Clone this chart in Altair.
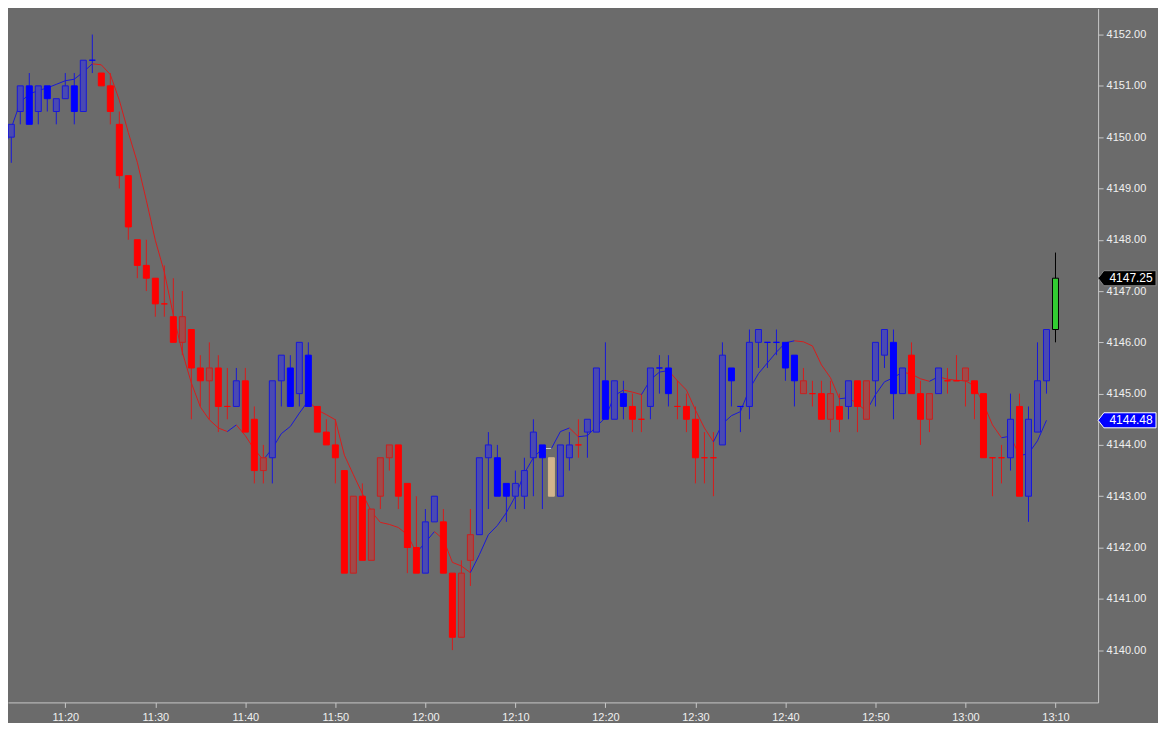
import altair as alt
import pandas as pd

# 1-minute bars from 11:13 to 13:10 (last bar is the live one)
OPENS = [
    4150.5, 4150.0, 4150.5, 4151.0, 4150.5, 4151.0, 4150.5, 4150.75, 4151.0, 4150.5,
    4151.5, 4151.25, 4151.0, 4150.25, 4149.25, 4148.0, 4147.5, 4147.25, 4146.75, 4146.5,
    4146.0, 4146.25, 4145.5, 4145.25, 4145.5, 4144.75, 4144.75, 4145.25, 4144.5, 4143.5,
    4143.75, 4145.25, 4145.5, 4145.0, 4145.75, 4144.75, 4144.25, 4144.0, 4143.5, 4141.5,
    4143.0, 4141.75, 4143.0, 4143.75, 4144.0, 4143.25, 4142.0, 4141.5, 4142.5, 4142.5,
    4141.5, 4140.25, 4141.75, 4142.25, 4143.75, 4143.75, 4143.25, 4143.0, 4143.0, 4143.75,
    4144.0, 4143.75, 4143.0, 4143.75, 4144.0, 4144.25, 4144.25, 4145.25, 4144.5, 4145.0,
    4144.75, 4144.5, 4144.75, 4145.5, 4145.5, 4144.75, 4144.75, 4144.5, 4143.75, 4143.75,
    4144.0, 4145.5, 4144.75, 4144.75, 4146.0, 4146.0, 4146.0, 4146.0, 4145.75, 4145.0,
    4145.0, 4145.0, 4144.5, 4144.75, 4144.75, 4145.25, 4144.5, 4145.25, 4145.75, 4146.0,
    4145.0, 4145.75, 4145.0, 4144.5, 4145.0, 4145.25, 4145.25, 4145.25, 4145.25, 4145.0,
    4143.75, 4143.75, 4143.75, 4144.75, 4143.0, 4144.25, 4145.25, 4146.25,
]
HIGHS = [
    4151.0, 4150.25, 4151.0, 4151.25, 4151.0, 4151.0, 4150.75, 4151.25, 4151.25, 4151.5,
    4152.0, 4151.25, 4151.25, 4150.5, 4149.25, 4148.0, 4148.0, 4147.25, 4147.5, 4147.25,
    4147.0, 4146.25, 4145.75, 4146.0, 4145.75, 4145.5, 4145.5, 4145.5, 4144.75, 4144.0,
    4145.25, 4145.75, 4145.75, 4146.0, 4146.0, 4144.75, 4144.5, 4144.5, 4143.5, 4143.0,
    4143.25, 4142.75, 4143.75, 4144.0, 4144.0, 4143.25, 4143.0, 4142.75, 4143.0, 4142.75,
    4141.5, 4141.75, 4142.75, 4143.75, 4144.25, 4144.0, 4143.25, 4143.5, 4143.75, 4144.5,
    4144.0, 4143.75, 4144.0, 4144.25, 4144.5, 4144.5, 4145.5, 4146.0, 4145.25, 4145.25,
    4145.0, 4145.0, 4145.5, 4145.75, 4145.75, 4145.25, 4145.0, 4144.75, 4144.25, 4144.25,
    4146.0, 4145.5, 4144.75, 4146.25, 4146.25, 4146.0, 4146.25, 4146.0, 4145.75, 4145.5,
    4145.25, 4145.25, 4145.25, 4145.0, 4145.25, 4145.25, 4145.25, 4146.0, 4146.25, 4146.25,
    4145.5, 4146.0, 4145.25, 4145.0, 4145.5, 4145.5, 4145.75, 4145.5, 4145.25, 4145.0,
    4143.75, 4144.0, 4145.0, 4145.0, 4144.75, 4146.0, 4146.25, 4147.75,
]
LOWS = [
    4150.0, 4149.5, 4150.25, 4150.25, 4150.25, 4150.5, 4150.25, 4150.75, 4150.25, 4150.5,
    4151.25, 4151.0, 4150.25, 4149.0, 4148.0, 4147.25, 4147.0, 4146.5, 4146.5, 4146.0,
    4145.75, 4144.5, 4144.75, 4144.5, 4144.25, 4144.5, 4144.75, 4144.25, 4143.25, 4143.25,
    4143.25, 4144.75, 4144.75, 4144.75, 4144.75, 4144.25, 4144.0, 4143.25, 4141.5, 4141.5,
    4141.75, 4141.75, 4142.75, 4143.5, 4142.75, 4141.5, 4141.5, 4141.5, 4142.5, 4141.5,
    4140.0, 4140.25, 4141.25, 4142.25, 4142.75, 4143.0, 4142.5, 4142.75, 4142.75, 4143.0,
    4142.75, 4143.0, 4143.0, 4143.5, 4143.75, 4143.75, 4144.25, 4144.5, 4144.5, 4144.5,
    4144.25, 4144.25, 4144.5, 4145.0, 4144.75, 4144.5, 4144.25, 4143.25, 4143.25, 4143.0,
    4144.0, 4144.75, 4144.25, 4144.5, 4145.5, 4145.5, 4145.75, 4145.25, 4144.75, 4145.0,
    4144.75, 4144.5, 4144.25, 4144.25, 4144.5, 4144.25, 4144.5, 4144.75, 4145.5, 4144.5,
    4145.0, 4145.0, 4144.0, 4144.25, 4145.0, 4145.0, 4145.25, 4144.75, 4144.5, 4143.75,
    4143.0, 4143.25, 4143.5, 4143.0, 4142.5, 4144.25, 4145.0, 4146.0,
]
CLOSES = [
    4150.0, 4150.25, 4151.0, 4150.25, 4151.0, 4150.75, 4150.75, 4151.0, 4150.5, 4151.5,
    4151.5, 4151.0, 4150.5, 4149.25, 4148.25, 4147.5, 4147.25, 4146.75, 4146.75, 4146.0,
    4146.5, 4145.5, 4145.25, 4145.5, 4144.75, 4144.75, 4145.25, 4144.25, 4143.5, 4143.75,
    4145.25, 4145.75, 4144.75, 4146.0, 4144.75, 4144.25, 4144.0, 4143.75, 4141.5, 4143.0,
    4141.75, 4142.75, 4143.75, 4144.0, 4143.0, 4142.0, 4141.5, 4142.5, 4143.0, 4141.5,
    4140.25, 4141.5, 4142.25, 4143.75, 4144.0, 4143.0, 4143.0, 4143.25, 4143.5, 4144.25,
    4143.75, 4143.0, 4144.0, 4144.0, 4144.0, 4144.5, 4145.5, 4144.5, 4145.25, 4144.75,
    4144.5, 4144.5, 4145.5, 4145.5, 4145.0, 4144.75, 4144.5, 4143.75, 4143.75, 4143.75,
    4145.75, 4145.25, 4144.75, 4146.0, 4146.25, 4146.0, 4146.0, 4145.5, 4145.25, 4145.25,
    4145.0, 4144.5, 4145.0, 4144.5, 4145.25, 4144.75, 4145.25, 4146.0, 4146.25, 4145.0,
    4145.5, 4145.0, 4144.5, 4145.0, 4145.5, 4145.25, 4145.25, 4145.5, 4145.0, 4143.75,
    4143.75, 4143.75, 4144.5, 4143.0, 4144.5, 4145.25, 4146.25, 4147.25,
]
# bar colouring: u = blue (average rising), d = red (falling), f = flat, L = live bar
TREND = list(
    "uuuuuuuuuuu" "ddddddddddddddd" "u" "ddd" "uuuuu" "dddddddddddd" "uu" "dddd"
    "uuuuuuuu" "f" "uu" "d" "uuuuu" "dd" "uuu" "ddddd" "uuuuuuuuu" "ddddd" "u" "dd"
    "uuuu" "ddd" "u" "ddddddd" "u" "d" "uuu" "L"
)
# moving average (last value shown on the axis as 4144.48)
MA = [
    4149.62, 4150.18, 4150.68, 4150.84, 4150.91, 4150.96, 4151.03, 4151.10, 4151.13, 4151.27,
    4151.43, 4151.41, 4151.22, 4150.72, 4150.09, 4149.51, 4148.77, 4147.99, 4147.37, 4146.53,
    4145.81, 4145.21, 4144.74, 4144.49, 4144.33, 4144.26, 4144.39, 4144.18, 4143.91, 4143.71,
    4143.93, 4144.22, 4144.36, 4144.62, 4144.86, 4144.68, 4144.59, 4144.49, 4143.80, 4143.42,
    4143.05, 4142.70, 4142.49, 4142.45, 4142.39, 4142.25, 4141.90, 4142.10, 4142.31, 4142.16,
    4141.71, 4141.64, 4141.51, 4141.86, 4142.25, 4142.43, 4142.68, 4143.00, 4143.45, 4143.75,
    4143.93, 4143.93, 4144.26, 4144.33, 4144.16, 4144.18, 4144.36, 4144.53, 4144.96, 4145.07,
    4145.03, 4144.98, 4145.27, 4145.42, 4145.45, 4145.25, 4145.07, 4144.68, 4144.33, 4144.06,
    4144.41, 4144.57, 4144.65, 4145.09, 4145.39, 4145.60, 4145.81, 4145.99, 4146.03, 4146.01,
    4145.93, 4145.56, 4145.31, 4144.90, 4144.92, 4144.80, 4144.66, 4144.98, 4145.23, 4145.31,
    4145.42, 4145.38, 4145.29, 4145.24, 4145.33, 4145.28, 4145.26, 4145.25, 4145.15, 4144.80,
    4144.39, 4144.14, 4144.17, 4143.79, 4143.83, 4144.08, 4144.48,
]
PRICE_TICKS = [4140, 4141, 4142, 4143, 4144, 4145, 4146, 4147, 4148, 4149, 4150, 4151, 4152]
TIME_TICKS = ["11:20", "11:30", "11:40", "11:50", "12:00", "12:10", "12:20",
              "12:30", "12:40", "12:50", "13:00", "13:10"]

DAY = "2023-04-20"
BG = "#6b6b6b"
AXIS_COL = "#c8c8c8"
FONT = "Liberation Sans"

BODY_FILL = {
    "u_f": "#0000ff", "u_h": "#4a4ab2", "d_f": "#ff0000", "d_h": "#a04a4a",
    "f_f": "#d2b48c", "f_h": "#d2b48c", "L_f": "#32cd32", "L_h": "#32cd32",
}
BODY_STROKE = {
    "u_f": "#0000ff", "u_h": "#1818d8", "d_f": "#ff0000", "d_h": "#c82020",
    "f_f": "#d2b48c", "f_h": "#d2b48c", "L_f": "#000000", "L_h": "#000000",
}
LINE_COL = {"u": "#1818d8", "d": "#d81c1c", "f": "#c8c8c8", "L": "#000000"}


def dt(hh, mm, ss=0):
    return alt.DateTime(year=2023, month=4, date=20, hours=hh, minutes=mm, seconds=ss)


def build_frames():
    times = pd.date_range(f"{DAY} 11:13", periods=len(OPENS), freq="1min")
    bars = pd.DataFrame(
        {"t": times, "o": OPENS, "h": HIGHS, "l": LOWS, "c": CLOSES, "trend": TREND}
    )
    bars["lo"] = bars[["o", "c"]].min(axis=1)
    bars["hi"] = bars[["o", "c"]].max(axis=1)
    bars["style"] = bars["trend"] + "_" + (bars["c"] > bars["o"]).map({True: "h", False: "f"})

    segs = pd.DataFrame(
        {
            "t0": times[: len(MA) - 1],
            "t1": times[1 : len(MA)],
            "m0": MA[:-1],
            "m1": MA[1:],
            "trend": TREND[1 : len(MA)],
        }
    )
    return bars, segs


def price_flag(price, fill, stroke):
    # little arrow-shaped box on the price axis
    flag_shape = "M -1 0 L -0.8 -0.26 L 1 -0.26 L 1 0.26 L -0.8 0.26 Z"
    df = pd.DataFrame({"p": [price]})
    box = alt.Chart(df).mark_point(
        shape=flag_shape, size=3364, filled=True, opacity=1,
        fill=fill, stroke=stroke, strokeWidth=1,
    ).encode(x=alt.value(1121), y="p:Q")
    label = alt.Chart(df).mark_text(
        font=FONT, fontSize=12, color="#ffffff", align="center", baseline="middle"
    ).encode(x=alt.value(1125), y="p:Q", text=alt.Text("p:Q", format=".2f"))
    return box + label


def plot_candles(bars, segs):
    x_scale = alt.Scale(domain=[dt(11, 13, 38), dt(13, 14, 44)], nice=False, padding=0)
    y_scale = alt.Scale(domain=[4138.98, 4152.506], nice=False, zero=False, padding=0)
    tick_vals = [dt(int(s[:2]), int(s[3:])) for s in TIME_TICKS]

    x_axis = alt.Axis(
        values=tick_vals, format="%H:%M", title=None, grid=False,
        domainColor=AXIS_COL, tickColor=AXIS_COL, tickSize=5,
        labelColor="#f0f0f0", labelFont=FONT, labelFontSize=11, labelPadding=4,
    )
    y_axis = alt.Axis(
        orient="right", values=PRICE_TICKS, format=".2f", title=None, grid=False,
        domainColor=AXIS_COL, tickColor=AXIS_COL, tickSize=5,
        labelColor="#f0f0f0", labelFont=FONT, labelFontSize=11, labelPadding=3,
    )
    x = alt.X("t:T", scale=x_scale, axis=x_axis)

    line_color = alt.Color(
        "trend:N", legend=None,
        scale=alt.Scale(domain=list(LINE_COL.keys()), range=list(LINE_COL.values())),
    )
    lower_wick = alt.Chart(bars).mark_rule(strokeWidth=1, clip=True).encode(
        x=x, y=alt.Y("l:Q", scale=y_scale, axis=y_axis), y2="lo:Q", color=line_color
    )
    upper_wick = alt.Chart(bars).mark_rule(strokeWidth=1, clip=True).encode(
        x="t:T", y="hi:Q", y2="h:Q", color=line_color
    )

    bodies = alt.Chart(bars).mark_bar(size=6, strokeWidth=1, clip=True).encode(
        x="t:T",
        y="lo:Q",
        y2="hi:Q",
        fill=alt.Fill(
            "style:N", legend=None,
            scale=alt.Scale(domain=list(BODY_FILL.keys()), range=list(BODY_FILL.values())),
        ),
        stroke=alt.Stroke(
            "style:N", legend=None,
            scale=alt.Scale(domain=list(BODY_STROKE.keys()), range=list(BODY_STROKE.values())),
        ),
    )

    ma_line = alt.Chart(segs).mark_rule(strokeWidth=1, clip=True).encode(
        x="t0:T", x2="t1:T", y="m0:Q", y2="m1:Q", color=line_color
    )

    last_flag = price_flag(CLOSES[-1], "#000000", "#8a8a8a")
    ma_flag = price_flag(MA[-1], "#0000ff", "#ffffff")

    chart = (
        alt.layer(lower_wick, upper_wick, ma_line, bodies, last_flag, ma_flag)
        .properties(width=1092, height=695, padding=0, background=BG)
        .configure_view(stroke=None, fill=BG)
    )
    return chart


bars, segs = build_frames()
chart = plot_candles(bars, segs)
chart.save("out.html", embed_options={"renderer": "svg", "actions": False})
